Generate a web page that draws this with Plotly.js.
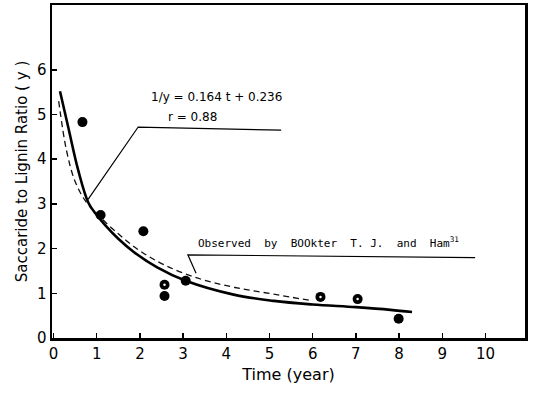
<!DOCTYPE html>
<html>
<head>
<meta charset="utf-8">
<script src="https://cdn.plot.ly/plotly-3.0.1.min.js"></script>
<style>html,body{margin:0;padding:0;background:#fff;}#chart{width:536px;height:396px;}</style>
</head>
<body>
<div id="chart"></div>
<script>
// Observed data (filled points)
const obsT = [0.67, 1.09, 2.08, 2.57, 3.06, 7.99];
const obsY = [4.83, 2.75, 2.39, 0.94, 1.28, 0.43];
// Observed data (points with light spot)
const spotT = [2.57, 6.18, 7.04];
const spotY = [1.19, 0.92, 0.87];
// Fitted curve (solid)
const fitT = [0.15, 0.34, 0.57, 0.81, 1.0, 1.2, 1.5, 1.85, 2.4, 3.06, 4.17, 5.1, 6.0, 7.0, 7.8, 8.3];
const fitY = [5.52, 4.72, 3.76, 3.02, 2.75, 2.52, 2.22, 1.93, 1.58, 1.28, 0.97, 0.83, 0.75, 0.69, 0.63, 0.58];
// Observed curve (dashed)
const dashT = [0.12, 0.3, 0.5, 0.75, 1.0, 1.5, 2.0, 2.6, 3.4, 4.2, 5.1, 6.0];
const dashY = [5.3, 4.2, 3.5, 3.05, 2.78, 2.33, 1.95, 1.62, 1.32, 1.13, 0.98, 0.83];
// Leader lines for the labels
const lead1T = [0.8, 1.96, 5.27];
const lead1Y = [3.1, 4.72, 4.65];
const lead2T = [3.3, 3.11, 9.76];
const lead2Y = [1.45, 1.86, 1.8];
const xTicks = [0,1,2,3,4,5,6,7,8,9,10];
const yTicks = [0,1,2,3,4,5,6];

const font = "DejaVu Sans, sans-serif";
const traces = [
  {x: dashT, y: dashY, mode: 'lines', line: {color: '#111', width: 1.3, dash: '6px,4px', shape: 'spline'}, hoverinfo: 'skip'},
  {x: fitT, y: fitY, mode: 'lines', line: {color: '#000', width: 2.6, shape: 'spline'}, hoverinfo: 'skip'},
  {x: lead1T, y: lead1Y, mode: 'lines', line: {color: '#000', width: 1.2}, hoverinfo: 'skip'},
  {x: lead2T, y: lead2Y, mode: 'lines', line: {color: '#000', width: 1.2}, hoverinfo: 'skip'},
  {x: obsT, y: obsY, mode: 'markers', marker: {color: '#000', size: 10}},
  {x: spotT, y: spotY, mode: 'markers', marker: {color: '#000', size: 10}},
  {x: spotT, y: spotY, mode: 'markers', marker: {color: '#fff', size: 2.5}}
];

const layout = {
  width: 536, height: 396,
  margin: {l: 52, r: 11, t: 5, b: 58},
  paper_bgcolor: '#fff', plot_bgcolor: '#fff',
  showlegend: false,
  font: {family: font, color: '#000', size: 15},
  xaxis: {
    range: [-0.035, 10.915], tickvals: xTicks, ticktext: xTicks.map(String),
    ticks: 'inside', ticklen: 5, tickwidth: 1.5, tickcolor: '#000',
    showline: true, linewidth: 2.5, linecolor: '#000', mirror: true,
    showgrid: false, zeroline: false,
    tickfont: {family: font, size: 15},
    title: {text: 'Time (year)', font: {family: font, size: 16}, standoff: 8}
  },
  yaxis: {
    range: [0, 7.45], tickvals: yTicks, ticktext: yTicks.map(String),
    ticks: 'inside', ticklen: 5, tickwidth: 1.5, tickcolor: '#000',
    showline: true, linewidth: 2.5, linecolor: '#000', mirror: true,
    showgrid: false, zeroline: false,
    tickfont: {family: font, size: 15},
    title: {text: 'Saccaride to Lignin Ratio ( y )', font: {family: font, size: 15}, standoff: 6}
  },
  annotations: [
    {x: 2.2, y: 5.39, xref: 'x', yref: 'y', xanchor: 'left', yanchor: 'middle', showarrow: false,
     text: '1/y = 0.164 t + 0.236', font: {family: font, size: 12}},
    {x: 2.6, y: 4.94, xref: 'x', yref: 'y', xanchor: 'left', yanchor: 'middle', showarrow: false,
     text: 'r = 0.88', font: {family: font, size: 12}},
    {x: 3.3, y: 2.13, xref: 'x', yref: 'y', xanchor: 'left', yanchor: 'middle', showarrow: false,
     text: 'Observed  by  BOOkter  T. J.  and  Ham<sup>31</sup>', font: {family: 'DejaVu Sans Mono, monospace', size: 11}}
  ]
};

Plotly.newPlot('chart', traces, layout, {staticPlot: true});
</script>
</body>
</html>
